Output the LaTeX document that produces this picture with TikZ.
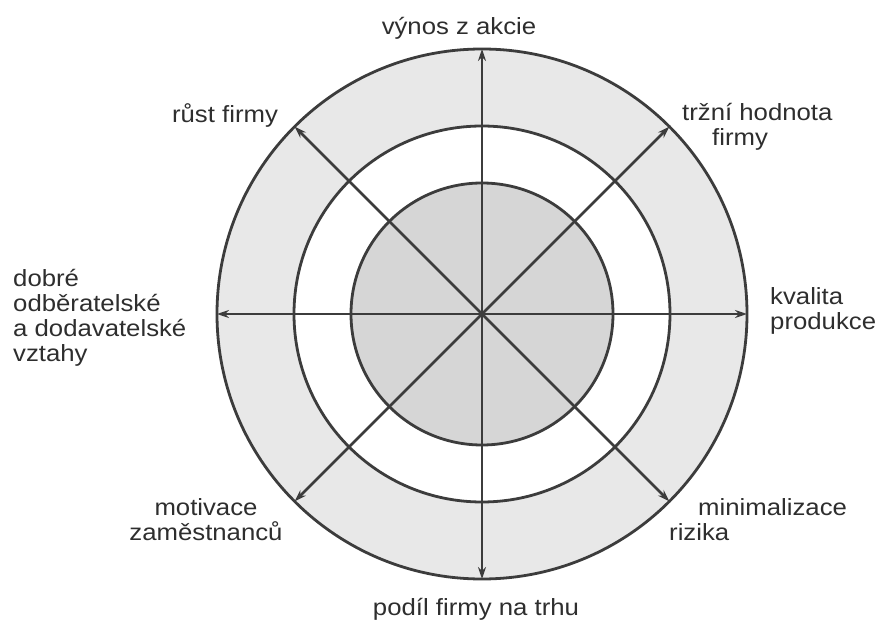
\documentclass[tikz,border=0pt]{standalone}
\usepackage{fontspec}
\setmainfont{Liberation Sans}[FakeStretch=1.1]
\usetikzlibrary{arrows.meta}
\definecolor{linec}{HTML}{3C3C3C}
\definecolor{textc}{HTML}{2E2E2E}
\definecolor{outerfill}{HTML}{E8E8E8}
\definecolor{innerfill}{HTML}{D6D6D6}
\begin{document}
\begin{tikzpicture}[x=1pt,y=-1pt,
  ring/.style={circle, draw=linec, line width=2.8pt, inner sep=0pt, outer sep=0pt},
  axis/.style={draw=linec, line width=2.6pt, {Stealth[length=12pt,width=8pt]}-{Stealth[length=12pt,width=8pt]}},
  lab/.style={font=\fontsize{23.4}{25}\selectfont, inner sep=0pt, text=textc}]
\fill[white] (0,0) rectangle (887,620);
\useasboundingbox (0,0) rectangle (887,620);
\coordinate (c) at (482,314);
\node[ring, fill=outerfill, minimum size=530pt] (outer) at (c) {};
\node[ring, fill=white, minimum size=376pt] (middle) at (c) {};
\node[ring, fill=innerfill, minimum size=262pt] (inner) at (c) {};
\draw[axis] (outer.north) -- (outer.south);
\draw[axis] (outer.west) -- (outer.east);
\draw[axis] (outer.135) -- (outer.-45);
\draw[axis] (outer.45) -- (outer.-135);
\node[lab, anchor=base] (t1) at (459,35) {výnos z akcie};
\node[lab, anchor=base] (t2) at (225,123) {růst firmy};
\node[lab, anchor=base west, align=left] (t3) at (682,146) {tržní hodnota\\\hspace*{30pt}firmy};
\node[lab, anchor=base west, align=left] (t4) at (770,330) {kvalita\\produkce};
\node[lab, anchor=base west, align=left] (t5) at (13,362) {dobré\\odběratelské\\a dodavatelské\\vztahy};
\node[lab, anchor=base, align=center] (t6) at (206,540) {motivace\\zaměstnanců};
\node[lab, anchor=base west, align=left] (t7) at (669,540) {\hspace*{29pt}minimalizace\\rizika};
\node[lab, anchor=base] (t8) at (476,615) {podíl firmy na trhu};
\end{tikzpicture}
\end{document}
